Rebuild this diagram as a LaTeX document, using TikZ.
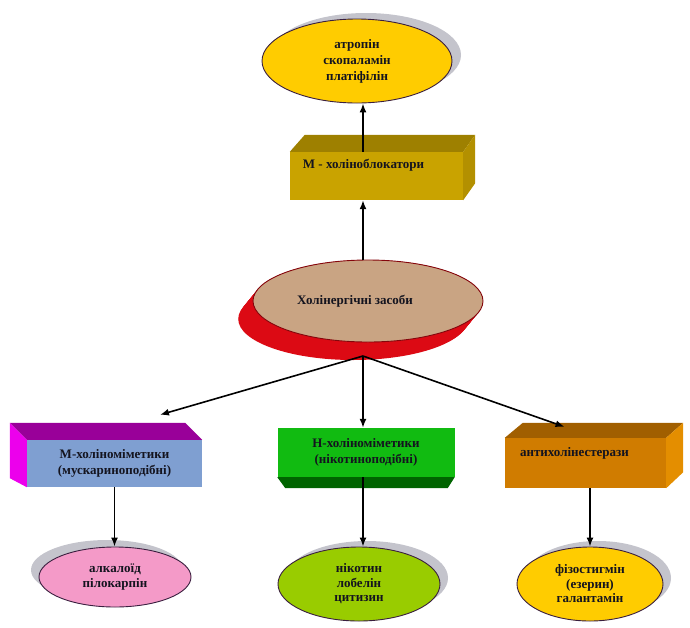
\documentclass[tikz,border=0pt]{standalone}
\usepackage{fontspec}
\setmainfont{Liberation Serif}
\usetikzlibrary{shapes.geometric,shadows,calc,arrows.meta}

\definecolor{txt}{HTML}{14141F}
\definecolor{ovaledge}{HTML}{3A1F3F}
\definecolor{shadowgray}{HTML}{C4C4CC}
\definecolor{ovalyellow}{HTML}{FFCC00}
\definecolor{ovalpink}{HTML}{F49AC8}
\definecolor{ovalgreen}{HTML}{99CC00}
\definecolor{holintan}{HTML}{C9A483}
\definecolor{holinred}{HTML}{DC0A14}
\definecolor{blokfront}{HTML}{C9A300}
\definecolor{bloktop}{HTML}{9E8000}
\definecolor{blokside}{HTML}{B39000}
\definecolor{mfront}{HTML}{7F9FD1}
\definecolor{mtop}{HTML}{990099}
\definecolor{mside}{HTML}{EC00EC}
\definecolor{nfront}{HTML}{11BB11}
\definecolor{nbottom}{HTML}{006400}
\definecolor{afront}{HTML}{D07C00}
\definecolor{atop}{HTML}{A15F00}
\definecolor{aside}{HTML}{E48E00}

\begin{document}
\begin{tikzpicture}[x=1pt,y=-1pt,
    font=\fontsize{13}{16}\selectfont\bfseries,
    oval/.style={ellipse,draw=ovaledge,line width=0.9pt,inner sep=0pt,align=center,text=txt},
    front/.style={rectangle,inner sep=0pt,align=center,text=txt},
    arr/.style={-{Latex[length=9pt,width=7pt]},line width=1.6pt}]
  \useasboundingbox (0,0) rectangle (690,627);

  % central oval with red rim
  \foreach \k in {0,...,18}
    \fill[holinred] ($(368,301)+(-0.82*\k,\k)$) ellipse [x radius=115pt,y radius=41pt];
  \node[oval,draw=holinred!60!black,fill=holintan,minimum width=230pt,minimum height=82pt,
    label={[text=txt,xshift=-13pt]center:Холінергічні засоби}] (holin) at (368,301) {};
  \coordinate (hub) at (363,356);

  % top branch
  \node[front,fill=blokfront,minimum width=173pt,minimum height=48pt,
    label={[text=txt,xshift=-13pt,yshift=11pt]center:М - холіноблокатори}] (blok) at (376.5,176) {};
  \fill[bloktop] (blok.north west) -- ++(15,-17) -- ($(blok.north east)+(12,-17)$) -- (blok.north east) -- cycle;
  \fill[blokside] (blok.north east) -- ++(12,-17) -- ($(blok.south east)+(12,-17)$) -- (blok.south east) -- cycle;
  \node[oval,fill=ovalyellow,minimum width=190pt,minimum height=84pt,
    general shadow={fill=shadowgray,shadow xshift=9pt,shadow yshift=6pt}] (atro) at (357,61)
    {атропін\\скопаламін\\платіфілін};

  % lower boxes
  \node[front,fill=mfront,minimum width=175pt,minimum height=47pt] (mmim) at (114.5,463.5)
    {М-холіноміметики\\(мускариноподібні)};
  \fill[mtop] (mmim.north west) -- ++(-17,-17) -- ($(mmim.north east)+(-17,-17)$) -- (mmim.north east) -- cycle;
  \fill[mside] (mmim.north west) -- ++(-17,-17) -- ($(mmim.south west)+(-17,-9)$) -- (mmim.south west) -- cycle;

  \node[front,fill=nfront,minimum width=177pt,minimum height=49pt] (nmim) at (366,452.5)
    {Н-холіноміметики\\(нікотиноподібні)};
  \fill[nbottom] (nmim.south west) -- ++(8,11) -- ($(nmim.south east)+(-7,11)$) -- (nmim.south east) -- cycle;

  \node[front,fill=afront,minimum width=161pt,minimum height=50pt,
    label={[text=txt,xshift=-11pt,yshift=10pt]center:антихолінестерази}] (anti) at (585.5,463) {};
  \fill[atop] (anti.north west) -- ++(18,-15) -- ($(anti.north east)+(17,-15)$) -- (anti.north east) -- cycle;
  \fill[aside] (anti.north east) -- ++(17,-15) -- ($(anti.south east)+(17,-16)$) -- (anti.south east) -- cycle;

  % bottom ovals
  \node[oval,fill=ovalpink,minimum width=152pt,minimum height=60pt,font=\fontsize{13}{14.5}\selectfont\bfseries,
    general shadow={fill=shadowgray,shadow xshift=-8pt,shadow yshift=7pt}] (pilo) at (115,577)
    {алкалоїд\\пілокарпін};
  \node[oval,fill=ovalgreen,minimum width=162pt,minimum height=74pt,font=\fontsize{13}{14.5}\selectfont\bfseries,
    general shadow={fill=shadowgray,shadow xshift=8pt,shadow yshift=6pt}] (niko) at (359,584)
    {нікотин\\лобелін\\цитизин};
  \node[oval,fill=ovalyellow,minimum width=146pt,minimum height=74pt,font=\fontsize{13}{14.5}\selectfont\bfseries,
    general shadow={fill=shadowgray,shadow xshift=8pt,shadow yshift=6pt}] (fizo) at (590,584)
    {фізостигмін\\(езерин)\\галантамін};

  % arrows
  \draw[arr] (holin.north -| hub) -- (blok.south -| hub);
  \draw[arr] (blok.north -| hub) -- (atro.south -| hub);
  \draw[arr] (hub) -- ($(mmim.north)+(45.5,-25)$);
  \draw[arr] (hub) -- (hub |- nmim.north);
  \draw[arr] (hub) -- ($(anti.north)+(-21,-11)$);
  \draw[arr] (mmim.south) -- (mmim.south |- pilo.north);
  \draw[arr] (nmim.south -| hub) -- (hub |- niko.north);
  \draw[arr] (anti.south -| fizo) -- (fizo.north);
\end{tikzpicture}
\end{document}
